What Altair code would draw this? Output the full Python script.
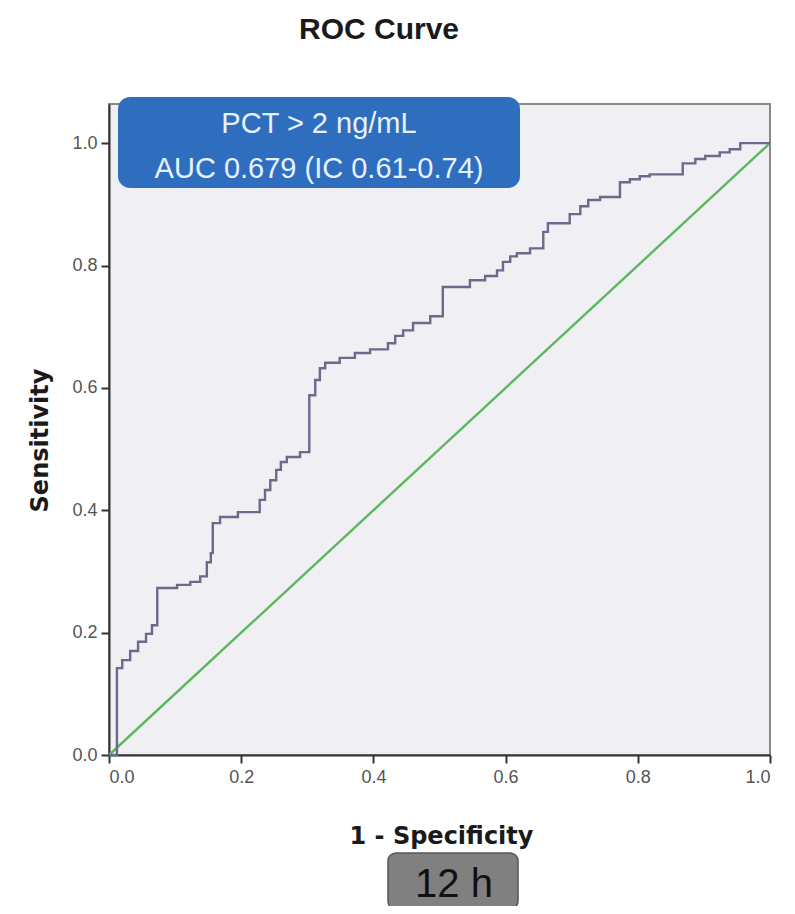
import altair as alt
import pandas as pd

# ROC curve vertices (1 - specificity, sensitivity)
fpr = [0, 0.012, 0.012, 0.020, 0.020, 0.032, 0.032, 0.044, 0.044, 0.056, 0.056, 0.065, 0.065, 0.073, 0.073,
       0.103, 0.103, 0.123, 0.123, 0.138, 0.138, 0.148, 0.148, 0.154, 0.154, 0.157, 0.157, 0.168, 0.168,
       0.195, 0.195, 0.228, 0.228, 0.236, 0.236, 0.244, 0.244, 0.253, 0.253, 0.260, 0.260, 0.269, 0.269,
       0.289, 0.289, 0.303, 0.303, 0.312, 0.312, 0.319, 0.319, 0.327, 0.327, 0.349, 0.349, 0.372, 0.372,
       0.395, 0.395, 0.422, 0.422, 0.433, 0.433, 0.445, 0.445, 0.460, 0.460, 0.486, 0.486, 0.505, 0.505,
       0.546, 0.546, 0.569, 0.569, 0.587, 0.587, 0.596, 0.596, 0.607, 0.607, 0.617, 0.617, 0.637, 0.637,
       0.657, 0.657, 0.664, 0.664, 0.697, 0.697, 0.713, 0.713, 0.725, 0.725, 0.743, 0.743, 0.773, 0.773,
       0.788, 0.788, 0.803, 0.803, 0.818, 0.818, 0.868, 0.868, 0.887, 0.887, 0.902, 0.902, 0.924, 0.924,
       0.939, 0.939, 0.955, 0.955, 1.0]
tpr = [0, 0, 0.142, 0.142, 0.155, 0.155, 0.170, 0.170, 0.185, 0.185, 0.198, 0.198, 0.212, 0.212, 0.273,
       0.273, 0.278, 0.278, 0.283, 0.283, 0.292, 0.292, 0.315, 0.315, 0.330, 0.330, 0.379, 0.379, 0.389,
       0.389, 0.397, 0.397, 0.417, 0.417, 0.433, 0.433, 0.449, 0.449, 0.466, 0.466, 0.479, 0.479, 0.487,
       0.487, 0.495, 0.495, 0.588, 0.588, 0.613, 0.613, 0.632, 0.632, 0.641, 0.641, 0.649, 0.649, 0.657,
       0.657, 0.663, 0.663, 0.673, 0.673, 0.685, 0.685, 0.694, 0.694, 0.706, 0.706, 0.717, 0.717, 0.765,
       0.765, 0.776, 0.776, 0.783, 0.783, 0.792, 0.792, 0.806, 0.806, 0.815, 0.815, 0.820, 0.820, 0.828,
       0.828, 0.855, 0.855, 0.869, 0.869, 0.884, 0.884, 0.897, 0.897, 0.907, 0.907, 0.912, 0.912, 0.936,
       0.936, 0.941, 0.941, 0.946, 0.946, 0.949, 0.949, 0.967, 0.967, 0.974, 0.974, 0.979, 0.979, 0.985,
       0.985, 0.990, 0.990, 1.0, 1.0]

ref_x = [0, 1]
ref_y = [0, 1]

ticks = [0.0, 0.2, 0.4, 0.6, 0.8, 1.0]
title_text = "ROC Curve"
x_title = "1 - Specificity"
y_title = "Sensitivity"
box_lines = ["PCT > 2 ng/mL", "AUC 0.679 (IC 0.61-0.74)"]
time_label = "12 h"

W, H = 661, 651

roc = pd.DataFrame({"fpr": fpr, "tpr": tpr, "order": list(range(len(fpr)))})
ref = pd.DataFrame({"fpr": ref_x, "tpr": ref_y})

xs = alt.Scale(domain=[0, 1], nice=False)
ys = alt.Scale(domain=[0, 1.064], nice=False)

xaxis = alt.Axis(values=ticks, format=".1f", grid=False, tickSize=8, tickWidth=2, tickColor="#333",
                 domainColor="#333", domainWidth=2, labelFont="Liberation Sans", labelFontSize=18,
                 labelColor="#555", labelPadding=5, title=x_title, titleFont="DejaVu Sans",
                 titleFontSize=24, titleFontWeight="bold", titleColor="#1a1a1a",
                 titleX=332, titleY=88, titleAlign="center", titleBaseline="alphabetic")
yaxis = alt.Axis(values=ticks, format=".1f", grid=False, tickSize=8, tickWidth=2, tickColor="#333",
                 domainColor="#333", domainWidth=2, labelFont="Liberation Sans", labelFontSize=18,
                 labelColor="#555", labelPadding=4, title=y_title, titleFont="DejaVu Sans",
                 titleFontSize=24, titleFontWeight="bold", titleColor="#1a1a1a",
                 titleX=-62, titleY=336, titleAngle=-90, titleAlign="center",
                 titleBaseline="alphabetic")

diag = alt.Chart(ref).mark_line(color="#5cb85c", strokeWidth=2.4).encode(
    x=alt.X("fpr:Q", scale=xs, axis=xaxis),
    y=alt.Y("tpr:Q", scale=ys, axis=yaxis),
)
curve = alt.Chart(roc).mark_line(color="#6a6a8c", strokeWidth=2.4).encode(
    x=alt.X("fpr:Q", scale=xs),
    y=alt.Y("tpr:Q", scale=ys),
    order="order:Q",
)

one = pd.DataFrame({"t": [title_text]})
title = alt.Chart(one).mark_text(font="Liberation Sans", fontSize=30, fontWeight="bold", color="#1a1a1a",
                                 align="center", baseline="alphabetic").encode(
    x=alt.value(270), y=alt.value(-65), text="t:N")

box = alt.Chart(one).mark_rect(color="#2f6ebf", cornerRadius=12).encode(
    x=alt.value(9), x2=alt.value(411), y=alt.value(-7), y2=alt.value(84))
l1 = alt.Chart(pd.DataFrame({"t": [box_lines[0]]})).mark_text(
    font="Liberation Sans", fontSize=29, color="#e6f2ff", align="center", baseline="alphabetic").encode(
    x=alt.value(210), y=alt.value(29), text="t:N")
l2 = alt.Chart(pd.DataFrame({"t": [box_lines[1]]})).mark_text(
    font="Liberation Sans", fontSize=29, color="#e6f2ff", align="center", baseline="alphabetic").encode(
    x=alt.value(210), y=alt.value(74), text="t:N")

gbox = alt.Chart(one).mark_rect(color="#808080", stroke="#555", strokeWidth=1.5, cornerRadius=8).encode(
    x=alt.value(279), x2=alt.value(409), y=alt.value(749), y2=alt.value(805))
glabel = alt.Chart(pd.DataFrame({"t": [time_label]})).mark_text(
    font="Liberation Sans", fontSize=40, color="#111", align="center", baseline="alphabetic").encode(
    x=alt.value(345), y=alt.value(793), text="t:N")

chart = alt.layer(diag, curve, box, l1, l2, title, gbox, glabel).properties(
    width=W, height=H,
    autosize=alt.AutoSizeParams(type="none"),
    padding={"left": 101, "top": 96, "right": 17, "bottom": 151},
    background="white",
).configure_view(fill="#f0eff4", stroke="#888", strokeWidth=2)

chart.save("out.html", embed_options={"renderer": "svg", "actions": False})
